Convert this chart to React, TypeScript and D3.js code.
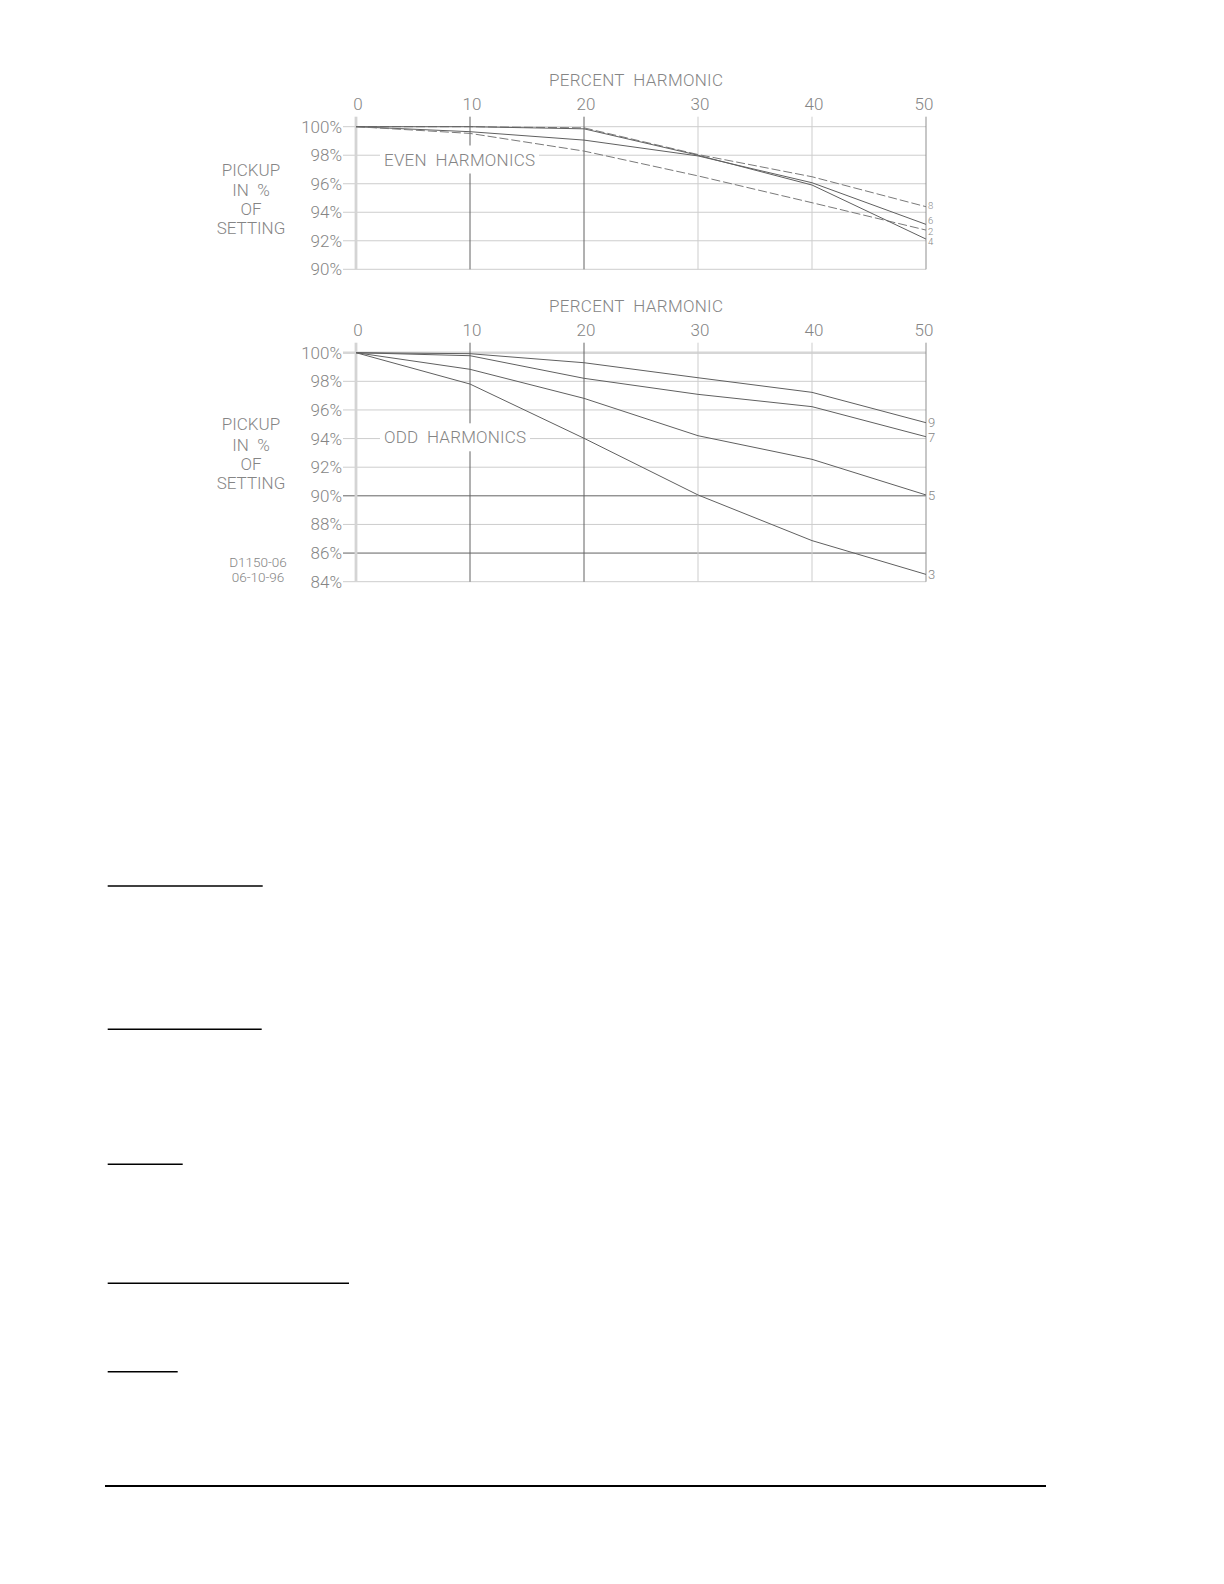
import React, { useRef, useEffect } from "react";
import * as d3 from "d3";

// x axis: percent harmonic
const harmonicPct = [0, 10, 20, 30, 40, 50];

// even harmonics (pickup % of setting)
const evenNames = ["8", "6", "2", "4"];
const even8 = [100, 100, 99.92, 98.05, 96.49, 94.39];
const even6 = [100, 99.65, 99.06, 97.95, 96.07, 93.15];
const even2 = [100, 99.53, 98.29, 96.55, 94.67, 92.75];
const even4 = [100, 100, 99.85, 98.0, 95.91, 92.12];

// odd harmonics
const oddNames = ["9", "7", "5", "3"];
const odd9 = [100, 99.93, 99.3, 98.25, 97.23, 95.11];
const odd7 = [100, 99.79, 98.21, 97.09, 96.23, 94.13];
const odd5 = [100, 98.84, 96.81, 94.2, 92.55, 90.06];
const odd3 = [100, 97.81, 94.02, 90.06, 86.87, 84.51];

const evenTicks = [100, 98, 96, 94, 92, 90];
const oddTicks = [100, 98, 96, 94, 92, 90, 88, 86, 84];

const FONT = "Roboto, 'DejaVu Sans', sans-serif";
const LIGHT = "#cdcdcd";
const DARK = "#626262";
const INK = "#858585";

type Panel = {
  top: number; // y of 100%
  bottom: number; // y of min
  yMin: number;
  ticks: number[];
  names: string[];
  series: number[][];
  dashed: boolean[];
  title: string;
  titleY: number;
  labelSize: number;
  labelNudge: number[];
  darkRows: number[];
  thickTop: boolean;
  sideY: number[];
};

const drawPanel = (root: d3.Selection<SVGGElement, unknown, null, undefined>, p: Panel) => {
  const x = d3.scaleLinear().domain([0, 50]).range([356, 926]);
  const y = d3.scaleLinear().domain([p.yMin, 100]).range([p.bottom, p.top]);
  const g = root.append("g");

  // horizontal grid
  p.ticks.forEach((t) => {
    const dark = p.darkRows.includes(t);
    const thick = p.thickTop && t === 100;
    g.append("line")
      .attr("x1", 343)
      .attr("x2", x(50))
      .attr("y1", y(t))
      .attr("y2", y(t))
      .attr("stroke", thick ? "#d6d6d6" : dark ? DARK : LIGHT)
      .attr("stroke-width", thick ? 2.5 : 1);
    g.append("text")
      .attr("x", 342)
      .attr("y", y(t) + 6)
      .attr("text-anchor", "end")
      .style("font-family", FONT)
      .style("font-weight", 300)
      .style("font-size", "17px")
      .style("fill", INK)
      .text(`${t}%`);
  });

  // vertical grid
  harmonicPct.forEach((h) => {
    let stroke = LIGHT;
    let w = 1;
    if (h === 0) {
      stroke = "#d4d4d4";
      w = 2.8;
    } else if (h === 10 || h === 20) stroke = DARK;
    else if (h === 50) stroke = "#8f8f8f";
    g.append("line")
      .attr("x1", x(h))
      .attr("x2", x(h))
      .attr("y1", p.top - 10)
      .attr("y2", p.bottom)
      .attr("stroke", stroke)
      .attr("stroke-width", w);
    g.append("text")
      .attr("x", x(h) + (h === 50 ? -2 : 2))
      .attr("y", p.top - 16.5)
      .attr("text-anchor", "middle")
      .style("font-family", FONT)
      .style("font-weight", 300)
      .style("font-size", "17px")
      .style("fill", INK)
      .text(h);
  });

  // axis title
  g.append("text")
    .attr("x", 549)
    .attr("y", p.top - 40.7)
    .attr("textLength", 174)
    .style("font-family", FONT)
    .style("font-weight", 300)
    .style("font-size", "17px")
    .style("fill", INK)
    .style("white-space", "pre")
    .text("PERCENT  HARMONIC");

  // side label
  ["PICKUP", "IN  %", "OF", "SETTING"].forEach((s, i) => {
    g.append("text")
      .attr("x", 251)
      .attr("y", p.sideY[i])
      .attr("text-anchor", "middle")
      .style("font-family", FONT)
      .style("font-weight", 300)
      .style("font-size", "17px")
      .style("fill", INK)
      .style("white-space", "pre")
      .text(s);
  });

  // panel title with white knockout
  const title = g
    .append("text")
    .attr("x", 384)
    .attr("y", p.titleY)
    .attr("textLength", p.title.startsWith("EVEN") ? 151 : 142)
    .style("font-family", FONT)
    .style("font-weight", 300)
    .style("font-size", "17px")
    .style("fill", INK)
    .style("white-space", "pre")
    .text(p.title);
  const bb = (title.node() as SVGTextElement).getBBox();
  g.insert("rect", () => title.node())
    .attr("x", bb.x - 4)
    .attr("y", bb.y - 4)
    .attr("width", bb.width + 8)
    .attr("height", bb.height + 8)
    .attr("fill", "white");

  // curves
  const line = d3
    .line<number>()
    .x((_, i) => x(harmonicPct[i]))
    .y((d) => y(d));

  p.series.forEach((s, i) => {
    g.append("path")
      .datum(s)
      .attr("d", line)
      .attr("fill", "none")
      .attr("stroke", p.dashed[i] ? "#7a7a7a" : "#606060")
      .attr("stroke-width", 1)
      .attr("stroke-dasharray", p.dashed[i] ? "9 3" : null);
    g.append("text")
      .attr("x", 928)
      .attr("y", y(s[s.length - 1]) + p.labelNudge[i] + p.labelSize * 0.36)
      .style("font-family", FONT)
      .style("font-weight", 300)
      .style("font-size", `${p.labelSize}px`)
      .style("fill", INK)
      .text(p.names[i]);
  });
};

const App = () => {
  const svgRef = useRef<SVGSVGElement>(null);

  useEffect(() => {
    if (!svgRef.current) return;
    const svg = d3.select(svgRef.current);
    svg.selectAll("*").remove();
    const root = svg.append("g");

    drawPanel(root, {
      top: 126.7,
      bottom: 269.3,
      yMin: 90,
      ticks: evenTicks,
      names: evenNames,
      series: [even8, even6, even2, even4],
      dashed: [true, false, true, false],
      title: "EVEN  HARMONICS",
      titleY: 165.5,
      labelSize: 9.5,
      labelNudge: [-1.5, -4, 1.7, 2.7],
      darkRows: [],
      thickTop: false,
      sideY: [176, 195.7, 215, 234.3],
    });

    drawPanel(root, {
      top: 352.7,
      bottom: 581.7,
      yMin: 84,
      ticks: oddTicks,
      names: oddNames,
      series: [odd9, odd7, odd5, odd3],
      dashed: [false, false, false, false],
      title: "ODD  HARMONICS",
      titleY: 443.3,
      labelSize: 13,
      labelNudge: [0, 1, 0, 0],
      darkRows: [90, 86],
      thickTop: true,
      sideY: [430, 450.7, 470, 489.3],
    });

    // drawing number
    [
      ["D1150-06", 566.7],
      ["06-10-96", 581.7],
    ].forEach(([t, yy]) => {
      root
        .append("text")
        .attr("x", 258)
        .attr("y", yy as number)
        .attr("text-anchor", "middle")
        .style("font-family", FONT)
        .style("font-weight", 300)
        .style("font-size", "13.5px")
        .style("fill", INK)
        .text(t as string);
    });

    // page rules below the figure
    const rules: [number, number, number][] = [
      [886, 107.7, 262.7],
      [1029.3, 107.7, 261.7],
      [1164.3, 107.7, 182.7],
      [1283.3, 107.7, 349],
      [1371.7, 107.7, 177.7],
    ];
    rules.forEach(([yy, a, b]) => {
      root
        .append("line")
        .attr("x1", a)
        .attr("x2", b)
        .attr("y1", yy)
        .attr("y2", yy)
        .attr("stroke", "#000")
        .attr("stroke-width", 1.5);
    });
    root
      .append("line")
      .attr("x1", 105)
      .attr("x2", 1046)
      .attr("y1", 1486)
      .attr("y2", 1486)
      .attr("stroke", "#000")
      .attr("stroke-width", 2);
  }, []);

  return (
    <svg
      ref={svgRef}
      width={1224}
      height={1584}
      style={{ position: "absolute", left: 0, top: 0, background: "white" }}
    />
  );
};

export default App;
